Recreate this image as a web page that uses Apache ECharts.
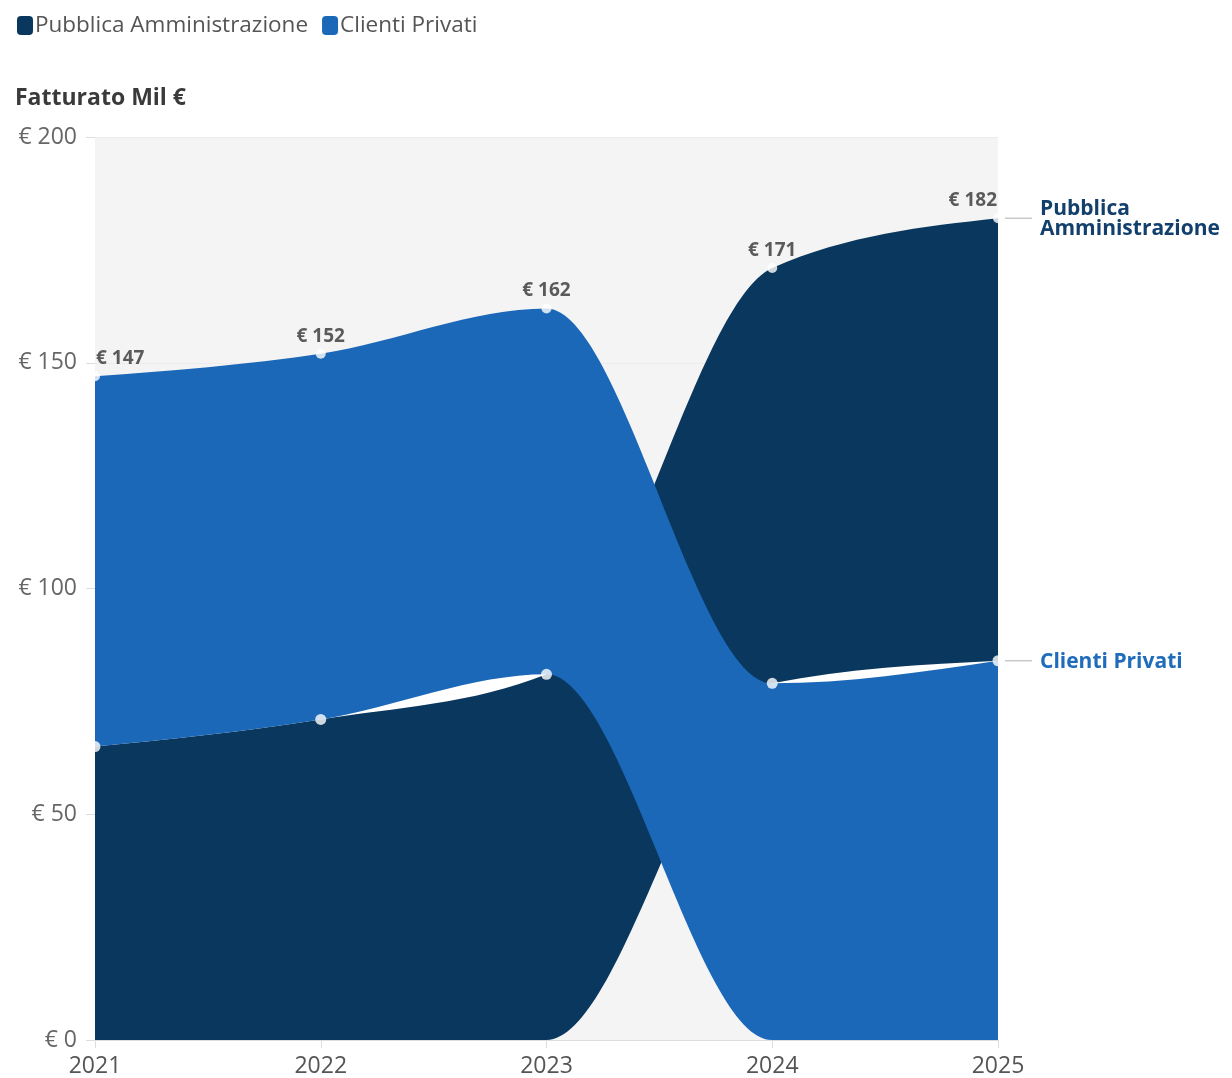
<!DOCTYPE html>
<html>
<head>
<meta charset="utf-8">
<script src="https://cdn.jsdelivr.net/npm/echarts@6/dist/echarts.min.js"></script>
<style>
  html, body { margin: 0; padding: 0; background: #ffffff; }
  #chart { width: 1232px; height: 1078px; }
</style>
</head>
<body>
<div id="chart"></div>
<script>
// ---- Data ----
const years = [2021, 2022, 2023, 2024, 2025];
const seriesNames = ['Pubblica Amministrazione', 'Clienti Privati'];
const paValues = [65, 71, 81, 92, 98];   // Pubblica Amministrazione
const cpValues = [82, 81, 81, 79, 84];   // Clienti Privati
const yTicks = [0, 50, 100, 150, 200];
const yTitle = 'Fatturato Mil €';

// ---- Styles ----
const COLORS = ['#0a375d', '#1b68b8'];
const LABEL_COLORS = ['#123f6b', '#1f6cbb'];
const FONT = '"Open Sans", "Noto Sans", sans-serif';

// ---- Bump-stack layout: smaller value at the bottom each year ----
const values = [paValues, cpValues];
const lowers = values.map(() => []);
const uppers = values.map(() => []);
const orders = [];
const totals = [];
const boundary = [];
years.forEach((y, j) => {
  const order = values.map((v, s) => s).sort((a, b) => values[a][j] - values[b][j] || a - b);
  orders.push(order);
  let acc = 0;
  order.forEach(s => {
    lowers[s][j] = acc;
    acc += values[s][j];
    uppers[s][j] = acc;
  });
  totals.push(acc);
  boundary.push(uppers[order[0]][j]);
});

// ---- d3-style monotoneX cubic segments (pixel space) ----
function sgn(x) { return x < 0 ? -1 : 1; }
function monotoneSegments(pts) {
  const n = pts.length;
  const t = new Array(n).fill(0);
  for (let i = 1; i < n - 1; i++) {
    const h0 = pts[i][0] - pts[i - 1][0], h1 = pts[i + 1][0] - pts[i][0];
    const s0 = (pts[i][1] - pts[i - 1][1]) / h0, s1 = (pts[i + 1][1] - pts[i][1]) / h1;
    const p = (s0 * h1 + s1 * h0) / (h0 + h1);
    t[i] = (sgn(s0) + sgn(s1)) * Math.min(Math.abs(s0), Math.abs(s1), 0.5 * Math.abs(p)) || 0;
  }
  if (n > 2) {
    const h = pts[1][0] - pts[0][0];
    t[0] = (3 * (pts[1][1] - pts[0][1]) / h - t[1]) / 2;
    const hl = pts[n - 1][0] - pts[n - 2][0];
    t[n - 1] = (3 * (pts[n - 1][1] - pts[n - 2][1]) / hl - t[n - 2]) / 2;
  }
  const segs = [];
  for (let i = 0; i < n - 1; i++) {
    const dx = (pts[i + 1][0] - pts[i][0]) / 3;
    segs.push({
      p0: pts[i],
      c1: [pts[i][0] + dx, pts[i][1] + dx * t[i]],
      c2: [pts[i + 1][0] - dx, pts[i + 1][1] - dx * t[i + 1]],
      p1: pts[i + 1]
    });
  }
  return segs;
}
function f(p) { return p[0].toFixed(2) + ' ' + p[1].toFixed(2); }
function fwd(g) { return ' C ' + f(g.c1) + ' ' + f(g.c2) + ' ' + f(g.p1); }
function bwd(g) { return ' C ' + f(g.c2) + ' ' + f(g.c1) + ' ' + f(g.p0); }

function edgeSegs(api, arr) {
  return monotoneSegments(years.map((x, i) => api.coord([x, arr[i]])));
}

function makeRenderItem(s) {
  return function (params, api) {
    if (params.dataIndex !== 0) return null;
    const top = years.map((x, i) => api.coord([x, uppers[s][i]]));
    const bot = years.map((x, i) => api.coord([x, lowers[s][i]]));
    const ts = monotoneSegments(top);
    const bs = monotoneSegments(bot);
    let d = 'M ' + f(top[0]);
    ts.forEach(g => { d += fwd(g); });
    d += ' L ' + f(bot[bot.length - 1]);
    for (let k = bs.length - 1; k >= 0; k--) d += bwd(bs[k]);
    d += ' Z';
    const end = top[top.length - 1];
    const name = s === 0 ? 'Pubblica\nAmministrazione' : seriesNames[s];
    return {
      type: 'group',
      children: [
        { type: 'path', shape: { pathData: d }, style: { fill: COLORS[s] } },
        { type: 'line', shape: { x1: end[0] + 7, y1: end[1], x2: end[0] + 34, y2: end[1] },
          style: { stroke: '#c8c8c8', lineWidth: 1.5 } },
        { type: 'text', x: end[0] + 42, y: end[1] + 1,
          style: { text: name, fill: LABEL_COLORS[s], font: 'bold 21px ' + FONT,
                   textAlign: 'left', textVerticalAlign: 'middle', lineHeight: 20 } }
      ]
    };
  };
}

// white gaps between neighbouring bands where the order does not change
function renderGaps(params, api) {
  if (params.dataIndex !== 0) return null;
  const children = [];
  for (let i = 0; i < years.length - 1; i++) {
    const o0 = orders[i], o1 = orders[i + 1];
    if (o0.join() !== o1.join()) continue;
    for (let k = 0; k < o0.length - 1; k++) {
      const a = o0[k], b = o0[k + 1];
      const ga = edgeSegs(api, uppers[a])[i];
      const gb = edgeSegs(api, lowers[b])[i];
      const d = 'M ' + f(ga.p0) + fwd(ga) + ' L ' + f(gb.p1) + bwd(gb) + ' Z';
      children.push({ type: 'path', shape: { pathData: d }, style: { fill: '#ffffff' } });
    }
  }
  return { type: 'group', children: children };
}

const gapSeries = {
  name: 'gaps', type: 'custom', renderItem: renderGaps,
  data: years.map((y, i) => [y, totals[i]]), silent: true, z: 1
};

const areaSeries = seriesNames.map((name, s) => ({
  name: name,
  type: 'custom',
  renderItem: makeRenderItem(s),
  itemStyle: { color: COLORS[s] },
  data: years.map((y, i) => [y, uppers[s][i]]),
  clip: false,
  silent: true,
  z: 2
}));

const totalDots = {
  name: 'totals',
  type: 'scatter',
  symbol: 'circle',
  symbolSize: 10,
  itemStyle: { color: '#ffffff' },
  silent: true,
  z: 5,
  data: years.map((y, i) => {
    const item = { value: [y, totals[i]] };
    if (i === 0) item.label = { align: 'left', offset: [1, 0] };
    if (i === years.length - 1) item.label = { align: 'right', offset: [-1, 0] };
    return item;
  }),
  label: {
    show: true, position: 'top', distance: 3,
    formatter: p => '€ ' + p.value[1],
    color: '#333333', fontSize: 19, fontWeight: 'bold', fontFamily: FONT
  }
};
const boundaryDots = {
  name: 'boundary',
  type: 'scatter',
  symbol: 'circle',
  symbolSize: 11,
  itemStyle: { color: '#ffffff' },
  silent: true,
  z: 5,
  data: years.map((y, i) => [y, boundary[i]])
};

const chart = echarts.init(document.getElementById('chart'), null, { renderer: 'canvas' });
chart.setOption({
  animation: false,
  backgroundColor: '#ffffff',
  textStyle: { fontFamily: FONT },
  title: {
    text: yTitle, left: 10, top: 82,
    textStyle: { fontSize: 23, fontWeight: 'bold', color: '#3a3a3a', fontFamily: FONT }
  },
  legend: {
    data: seriesNames,
    left: 12, top: 9,
    icon: 'roundRect',
    itemWidth: 16, itemHeight: 19, itemGap: 14,
    textStyle: { fontSize: 22.5, color: '#555555', fontFamily: FONT, padding: [0, 0, 0, -3] },
    selectedMode: false
  },
  grid: {
    left: 95, right: 234, top: 137, bottom: 37,
    show: true, backgroundColor: '#f4f4f4', borderWidth: 0, containLabel: false
  },
  xAxis: {
    type: 'value', min: years[0], max: years[years.length - 1], interval: 1,
    axisLine: { show: true, lineStyle: { color: '#dddddd' } },
    axisTick: { show: true, length: 8, lineStyle: { color: '#dddddd' } },
    splitLine: { show: false },
    axisLabel: { fontSize: 23, color: '#555555', margin: 15, fontFamily: FONT,
                 formatter: v => String(v) }
  },
  yAxis: {
    type: 'value', min: yTicks[0], max: yTicks[yTicks.length - 1], interval: 50,
    axisLine: { show: false },
    axisTick: { show: true, length: 9, lineStyle: { color: '#dddddd' } },
    splitLine: { show: true, lineStyle: { color: '#ececec', width: 1 } },
    axisLabel: { fontSize: 23, color: '#666666', margin: 18, fontFamily: FONT,
                 formatter: v => '€ ' + v }
  },
  series: [gapSeries, ...areaSeries, totalDots, boundaryDots]
});
</script>
</body>
</html>
